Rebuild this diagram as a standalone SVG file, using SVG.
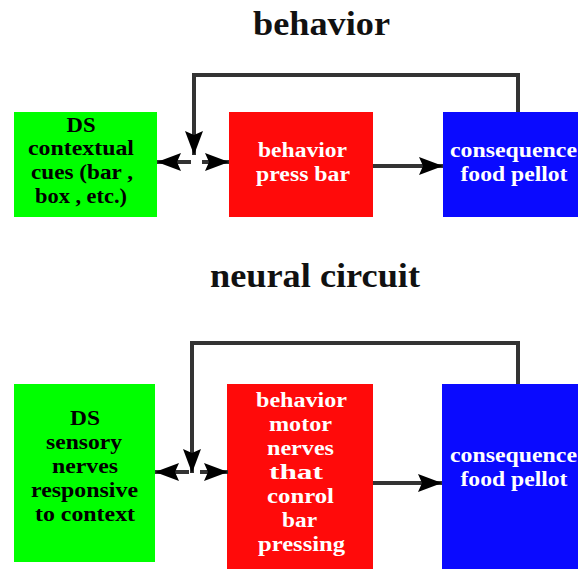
<svg xmlns="http://www.w3.org/2000/svg" width="578" height="569" viewBox="0 0 578 569">
<style>
.title{font-family:"Liberation Serif","Times New Roman",serif;font-weight:bold;font-size:33px;fill:#111;text-anchor:middle}
.t{font-family:"Liberation Serif","Times New Roman",serif;font-weight:bold;font-size:20px;text-anchor:middle}
.dk{fill:#000}
.lt{fill:#fff}
.ln{stroke:#333;stroke-width:4;fill:none}
</style>
<defs>
<marker id="ah" viewBox="0 0 24 18" refX="24" refY="9" markerWidth="24" markerHeight="18" markerUnits="userSpaceOnUse" orient="auto">
<path d="M0,0 L24,9 L0,18 L4,9 z" fill="#000"/>
</marker>
</defs>
<rect width="578" height="569" fill="#fff"/>
<text class="title" x="321.5" y="35" textLength="137" lengthAdjust="spacingAndGlyphs">behavior</text>
<text class="title" x="315" y="287" textLength="210" lengthAdjust="spacingAndGlyphs">neural circuit</text>

<g id="ds-top">
<rect x="14" y="112" width="143" height="105" fill="#00ff00"/>
<text class="t dk" x="81" y="132" textLength="29" lengthAdjust="spacingAndGlyphs">DS</text>
<text class="t dk" x="81" y="155" textLength="106" lengthAdjust="spacingAndGlyphs">contextual</text>
<text class="t dk" x="82" y="179" textLength="102" lengthAdjust="spacingAndGlyphs">cues (bar ,</text>
<text class="t dk" x="81" y="203" textLength="92" lengthAdjust="spacingAndGlyphs">box , etc.)</text>
</g>
<g id="behavior-top">
<rect x="229" y="112" width="144" height="105" fill="#ff0a0a"/>
<text class="t lt" x="302.5" y="157" textLength="89" lengthAdjust="spacingAndGlyphs">behavior</text>
<text class="t lt" x="303" y="181" textLength="94" lengthAdjust="spacingAndGlyphs">press bar</text>
</g>
<g id="consequence-top">
<rect x="443" y="112" width="135" height="105" fill="#0a0aff"/>
<text class="t lt" x="513.5" y="157" textLength="127" lengthAdjust="spacingAndGlyphs">consequence</text>
<text class="t lt" x="514" y="181" textLength="107" lengthAdjust="spacingAndGlyphs">food pellot</text>
</g>

<g id="ds-bottom">
<rect x="14" y="384" width="141" height="178" fill="#00ff00"/>
<text class="t dk" x="85" y="425" textLength="30" lengthAdjust="spacingAndGlyphs">DS</text>
<text class="t dk" x="84" y="449" textLength="76" lengthAdjust="spacingAndGlyphs">sensory</text>
<text class="t dk" x="85" y="473" textLength="66" lengthAdjust="spacingAndGlyphs">nerves</text>
<text class="t dk" x="84.5" y="497" textLength="107" lengthAdjust="spacingAndGlyphs">responsive</text>
<text class="t dk" x="85" y="521" textLength="100" lengthAdjust="spacingAndGlyphs">to context</text>
</g>
<g id="behavior-bottom">
<rect x="227" y="384" width="146" height="185" fill="#ff0a0a"/>
<text class="t lt" x="301.5" y="407" textLength="91" lengthAdjust="spacingAndGlyphs">behavior</text>
<text class="t lt" x="300.5" y="431" textLength="63" lengthAdjust="spacingAndGlyphs">motor</text>
<text class="t lt" x="300.5" y="455" textLength="67" lengthAdjust="spacingAndGlyphs">nerves</text>
<text class="t lt" x="296" y="479" textLength="54" lengthAdjust="spacingAndGlyphs">that</text>
<text class="t lt" x="300.5" y="503" textLength="67" lengthAdjust="spacingAndGlyphs">conrol</text>
<text class="t lt" x="299.5" y="527" textLength="35" lengthAdjust="spacingAndGlyphs">bar</text>
<text class="t lt" x="301.5" y="551" textLength="87" lengthAdjust="spacingAndGlyphs">pressing</text>
</g>
<g id="consequence-bottom">
<rect x="442" y="384" width="136" height="185" fill="#0a0aff"/>
<text class="t lt" x="513.5" y="462" textLength="127" lengthAdjust="spacingAndGlyphs">consequence</text>
<text class="t lt" x="514" y="486" textLength="107" lengthAdjust="spacingAndGlyphs">food pellot</text>
</g>

<g id="connectors">
<path class="ln" d="M518,112 V75 H194 V155" marker-end="url(#ah)"/>
<path class="ln" d="M183,162 H157" marker-end="url(#ah)"/>
<path class="ln" d="M183,162 H191"/>
<path class="ln" d="M202,162 H229" marker-end="url(#ah)"/>
<path class="ln" d="M373,166 H443" marker-end="url(#ah)"/>

<path class="ln" d="M518,384 V343 H192 V473" marker-end="url(#ah)"/>
<path class="ln" d="M180,472 H155" marker-end="url(#ah)"/>
<path class="ln" d="M178,472 H189"/>
<path class="ln" d="M200,472 H228" marker-end="url(#ah)"/>
<path class="ln" d="M373,483 H442" marker-end="url(#ah)"/>
</g>
</svg>
